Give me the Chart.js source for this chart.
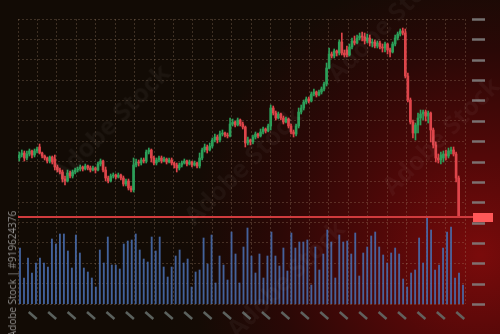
<!DOCTYPE html>
<html>
<head>
<meta charset="utf-8">
<script src="https://cdn.jsdelivr.net/npm/chart.js@4"></script>
<style>
  html, body { margin: 0; padding: 0; }
  body {
    width: 500px; height: 334px; overflow: hidden; position: relative;
    background: radial-gradient(circle 330px at 480px 255px, #7a0b0b 0%, #520808 30%, #2a0806 62%, #140b05 88%, #120b05 100%);
  }
  canvas { position: absolute; left: 0; top: 0; }
  .wm {
    position: absolute; font: bold 25px "Open Sans", sans-serif; color: rgba(255,255,255,0.04);
    transform: translate(-50%, -50%) rotate(-45deg); white-space: nowrap; pointer-events: none;
  }
  .side {
    position: absolute; left: 12px; top: 274px; font: 10px "Open Sans", sans-serif; color: rgba(190,190,190,0.75);
    transform: translate(-50%, -50%) rotate(-90deg); white-space: nowrap;
  }
</style>
</head>
<body>
<canvas id="chart" width="500" height="334"></canvas>
<div class="wm" style="left:110px;top:122px">Adobe Stock</div>
<div class="wm" style="left:242px;top:165px">Adobe Stock</div>
<div class="wm" style="left:440px;top:135px">Adobe Stock</div>
<div class="wm" style="left:385px;top:22px">Adobe Stock</div>
<div class="wm" style="left:285px;top:278px">Adobe Stock</div>
<div class="side">Adobe Stock | #919624376</div>
<script>
// candle prices (arbitrary price units)
const opens = [146,149,151,146,150,153,149,153,157,151,148,146,143,147,145,137,134,132,125,123,
  131,128,132,134,135,137,135,138,136,134,136,134,140,143,134,126,123,128,129,127,
  129,126,120,123,116,114,139,142,141,144,143,152,154,146,141,144,146,143,145,142,
  144,141,139,136,139,141,143,140,142,139,141,138,146,154,157,154,158,164,167,164,
  170,171,169,168,180,182,179,184,180,177,161,164,162,167,170,168,172,175,173,178,
  196,191,186,190,186,182,185,178,172,170,178,192,196,202,205,203,210,212,209,212,
  215,220,236,250,248,253,251,262,251,254,249,257,263,261,266,268,267,263,266,261,
  262,258,261,257,256,260,254,252,260,266,270,273,271,228,204,182,171,179,186,190,
  192,188,191,174,159,146,144,146,150,148,153,154,150,126];
const closes = [149,151,146,150,153,149,153,155,151,148,146,143,147,142,137,134,132,125,123,131,
  128,132,134,135,137,135,138,136,134,136,134,140,143,134,126,123,128,129,127,129,
  126,120,123,116,114,139,142,141,144,143,152,154,146,141,144,146,143,145,142,144,
  141,139,136,139,141,143,140,142,139,141,138,146,154,157,154,158,164,167,164,170,
  171,169,168,180,182,179,184,180,177,161,164,162,167,170,168,172,175,173,178,196,
  191,186,190,186,182,185,178,172,170,178,192,196,202,205,203,210,212,209,212,215,
  220,236,250,248,253,251,262,251,249,249,257,263,261,266,268,267,263,266,261,262,
  258,261,257,256,260,254,252,260,266,270,273,271,228,204,182,171,179,186,190,192,
  188,191,174,159,146,144,149,150,148,153,154,150,126,87];
const highs = [152,154,153,153,155,154,155,157,160,152,149,147,148,148,149,139,136,134,128,134,
  133,134,136,137,139,138,140,139,138,138,137,142,145,144,137,128,130,131,130,131,
  130,128,125,125,118,146,145,144,146,146,154,156,155,148,146,148,148,147,146,146,
  146,142,141,141,143,145,144,144,143,143,142,151,156,160,159,161,166,170,169,173,
  174,172,171,186,185,183,186,185,182,178,167,165,169,172,171,175,177,176,180,199,
  198,193,192,191,188,187,186,180,174,180,196,199,204,207,207,212,215,213,214,217,
  222,241,256,252,255,254,264,271,254,258,260,266,268,269,271,272,271,270,269,265,
  264,263,263,260,262,261,256,262,269,272,275,276,275,231,206,184,181,191,194,194,
  194,193,192,176,162,150,152,153,154,156,157,157,152,128];
const lows = [143,147,143,144,148,146,147,151,150,146,144,141,141,140,134,132,130,122,119,122,
  126,126,130,132,133,133,134,134,132,133,131,133,138,132,123,121,122,126,125,126,
  124,118,118,114,112,112,137,138,139,141,141,150,142,139,139,142,141,142,140,141,
  139,136,132,134,137,140,138,139,137,138,136,136,144,152,151,153,156,162,161,162,
  168,167,166,167,178,177,178,178,175,157,159,159,160,165,166,167,170,171,172,174,
  189,184,185,184,180,181,176,170,167,168,176,190,194,200,201,202,208,207,208,210,
  213,218,235,246,246,248,249,249,247,247,248,255,259,260,264,263,260,261,258,257,
  256,256,255,252,252,250,247,251,258,264,268,269,226,202,180,166,164,171,179,184,
  183,181,162,156,142,141,140,142,144,146,150,148,122,87];

// one slot per candle on the time axis (last two slots are empty)
const candleLabels = Array.from({ length: 176 }, (_, i) => `c${i + 1}`);

const volumes = [56,26,46,31,41,46,41,37,65,60,70,70,53,36,69,51,36,32,26,17,
  54,41,67,39,39,35,60,63,64,70,54,45,42,67,53,67,37,27,
  37,48,54,41,45,17,32,34,66,40,69,21,48,39,24,72,50,21,57,76,
  48,31,50,26,48,72,48,38,56,33,71,56,62,62,64,19,57,34,50,74,62,26,69,
  62,63,50,71,28,51,57,68,72,57,49,41,51,56,50,25,17,31,34,66,
  41,87,74,34,39,56,72,77,26,31,19];
const volumeLabels = volumes.map((_, i) => `v${i + 1}`);

const green = "#2c9f59";
const red = "#dd454a";
const candleColor = ctx => closes[ctx.dataIndex] >= opens[ctx.dataIndex] ? green : red;

const decorations = {
    id: "decorations",
    afterDatasetsDraw(chart) {
        const { ctx, chartArea, scales } = chart;
        ctx.save();

        // tick dashes on the right
        ctx.strokeStyle = "rgba(130,130,130,0.85)";
        ctx.lineWidth = 2.5;
        scales.yg.ticks.forEach(t => {
            const y = Math.round(scales.yg.getPixelForValue(t.value)) + 0.5;
            ctx.beginPath();
            ctx.moveTo(chartArea.right + 7, y);
            ctx.lineTo(chartArea.right + 20, y);
            ctx.stroke();
        });

        // slanted marks under the time axis
        ctx.strokeStyle = "rgba(100,108,104,0.9)";
        scales.xg.ticks.forEach(t => {
            const x = scales.xg.getPixelForValue(t.value);
            ctx.beginPath();
            ctx.moveTo(x + 1, chartArea.bottom + 8);
            ctx.lineTo(x + 9, chartArea.bottom + 15);
            ctx.stroke();
        });

        // last price line and tag
        const py = Math.round(scales.y.getPixelForValue(closes[closes.length - 1]));
        ctx.strokeStyle = "#cf3b3d";
        ctx.lineWidth = 2;
        ctx.beginPath();
        ctx.moveTo(chartArea.left, py);
        ctx.lineTo(chartArea.right + 8, py);
        ctx.stroke();
        ctx.fillStyle = "#ff5858";
        ctx.fillRect(chartArea.right + 8, py - 4, 20, 9);
        ctx.restore();
    }
};

new Chart(document.getElementById("chart"), {
    type: "bar",
    data: {
        datasets: [
            {
                label: "body",
                data: opens.map((o, i) => [o, closes[i]]),
                xAxisID: "xc", yAxisID: "y",
                backgroundColor: candleColor,
                barThickness: 2,
                grouped: false
            },
            {
                label: "wick",
                data: lows.map((l, i) => [l, highs[i]]),
                xAxisID: "xc", yAxisID: "y",
                backgroundColor: candleColor,
                barThickness: 1,
                grouped: false
            },
            {
                label: "volume",
                data: volumes,
                xAxisID: "xv", yAxisID: "yv",
                backgroundColor: "rgba(72,108,172,0.9)",
                barThickness: 1.2,
                grouped: false
            }
        ]
    },
    options: {
        responsive: false,
        animation: false,
        layout: { padding: { left: 18, right: 35, top: 19, bottom: 30 } },
        plugins: { legend: { display: false }, tooltip: { enabled: false } },
        scales: {
            xc: { type: "category", labels: candleLabels, display: false, offset: true },
            xv: { type: "category", labels: volumeLabels, display: false, offset: true },
            y: { type: "linear", min: 0, max: 285, display: false },
            yv: { type: "linear", min: 0, max: 285, display: false },
            xg: {
                type: "linear", position: "bottom", min: 0, max: 22,
                ticks: { display: false, stepSize: 1 },
                grid: { color: "rgba(165,135,110,0.3)", drawTicks: false },
                border: { display: false, dash: [2, 2] }
            },
            yg: {
                type: "linear", position: "left", min: 0, max: 14,
                ticks: { display: false, stepSize: 1 },
                grid: { color: "rgba(165,135,110,0.3)", drawTicks: false },
                border: { display: false, dash: [2, 2] }
            }
        }
    },
    plugins: [decorations]
});
</script>
</body>
</html>
